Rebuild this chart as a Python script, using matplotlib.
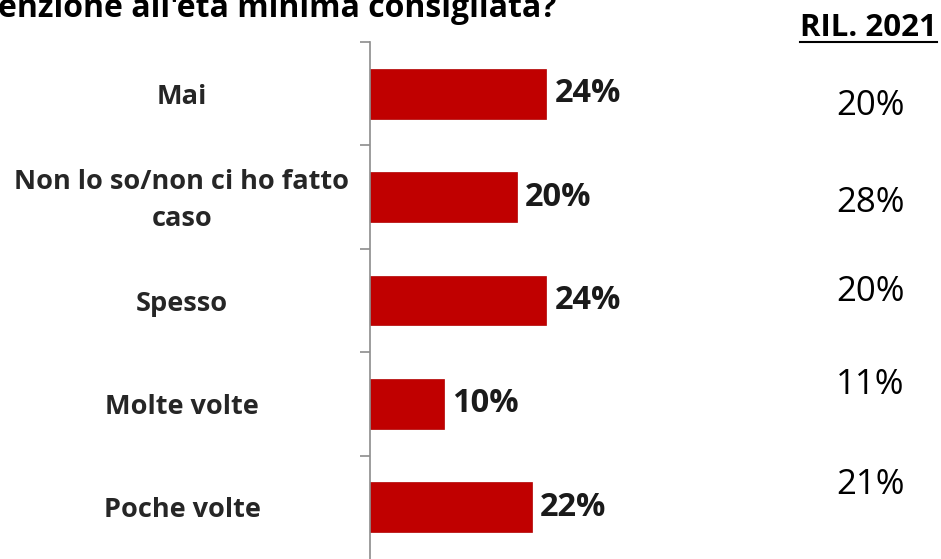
import matplotlib.pyplot as plt
from matplotlib.transforms import blended_transform_factory

# ----------------------------------------
# Data
# ----------------------------------------
categories = ["Mai", "Non lo so/non ci ho fatto\ncaso", "Spesso", "Molte volte", "Poche volte"]
values_2022 = [24, 20, 24, 10, 22]
values_2021 = [20, 28, 20, 11, 21]
title_text = "enzione all'età minima consigliata?"

# ----------------------------------------
# Figure setup
# ----------------------------------------
W, H = 941, 559
fig = plt.figure(figsize=(W / 100, H / 100), dpi=100)
plt.rcParams['font.family'] = ['Open Sans', 'DejaVu Sans']

# axes: spine at x=370px, top at y=42px, runs to bottom of image
ax_left, ax_top, ax_bottom = 370, 42, 559
ax = fig.add_axes([ax_left / W, 1 - ax_bottom / H, 300 / W, (ax_bottom - ax_top) / H])
n = len(categories)
ax.barh(range(n), values_2022, height=0.48, color="#C00000", edgecolor="#B00000", linewidth=0.5)
ax.set_ylim(n - 0.5, -0.5)
ax.set_xlim(0, 300 / 7.35)

for s in ["top", "right", "bottom"]:
    ax.spines[s].set_visible(False)
ax.spines["left"].set_color("#8c8c8c")
ax.spines["left"].set_linewidth(1.2)
ax.set_xticks([])
ax.set_yticks([i - 0.5 for i in range(n)])
ax.set_yticklabels([])
ax.tick_params(axis="y", length=7, width=1.2, color="#8c8c8c")

# value labels next to bars
for i, v in enumerate(values_2022):
    ax.text(v + 1.1, i, f"{v}%", va="center", ha="left", fontsize=23.5, fontweight="bold", color="#1a1a1a")

# category labels on the left, centred
trans = blended_transform_factory(fig.transFigure, ax.transData)
for i, c in enumerate(categories):
    ax.text(182 / W, i + 0.03, c, transform=trans, ha="center", va="center",
            fontsize=19.5, fontweight="bold", color="#262626", linespacing=1.55)

# previous survey column
offsets = [0.12, 0.06, -0.08, -0.18, -0.22]
for i, v in enumerate(values_2021):
    ax.text(870 / W, i + offsets[i], f"{v}%", transform=trans, ha="center", va="center",
            fontsize=25, color="black")

fig.text(868 / W, 1 - 36 / H, "RIL. 2021", ha="center", va="baseline", fontsize=22.5,
         fontweight="bold", color="black")
fig.add_artist(plt.Line2D([800 / W, 937 / W], [1 - 42 / H, 1 - 42 / H], color="black", linewidth=1.5))

# title (cut at the top as in the original)
fig.text(-2 / W, 1 - 17 / H, title_text, ha="left", va="baseline", fontsize=23,
         fontweight="bold", color="black")

plt.savefig("out.png", dpi=100)
